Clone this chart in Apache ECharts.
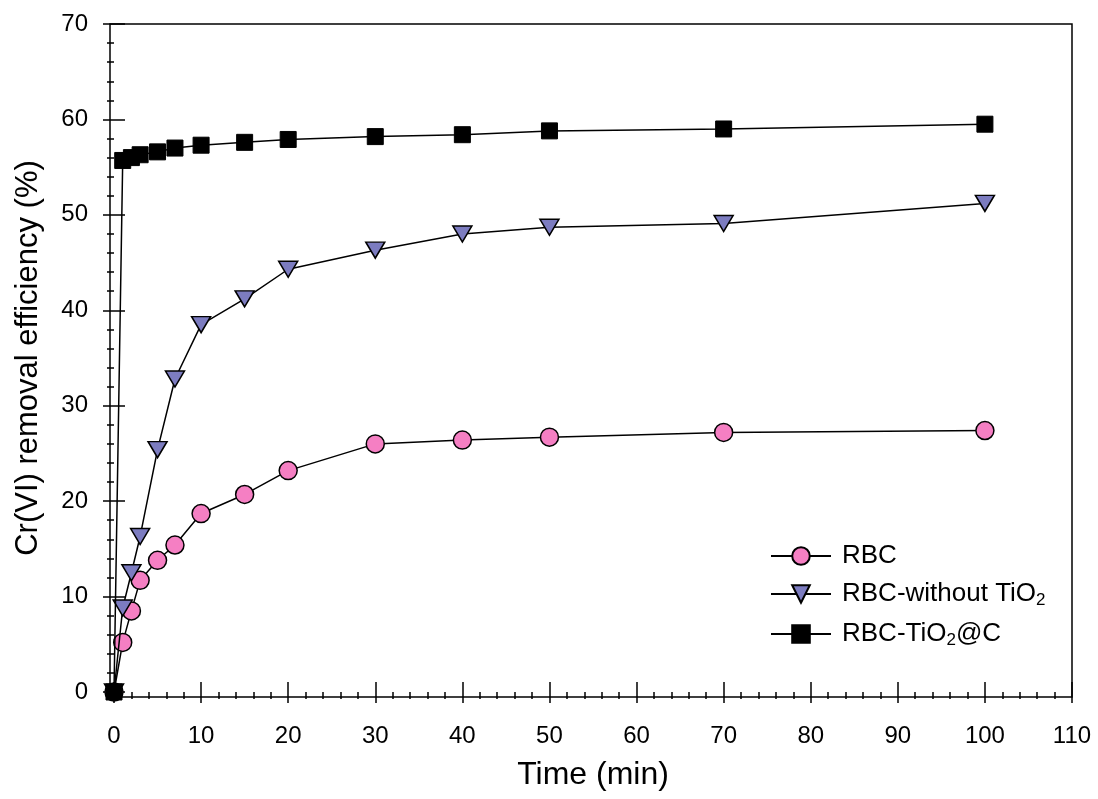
<!DOCTYPE html>
<html>
<head>
<meta charset="utf-8">
<script src="https://cdn.jsdelivr.net/npm/echarts@6/dist/echarts.min.js"></script>
<style>
  html, body { margin: 0; padding: 0; background: #fff; }
  #main { width: 1098px; height: 799px; }
</style>
</head>
<body>
<div id="main"></div>
<script>
// time points (min)
const time = [0, 1, 2, 3, 5, 7, 10, 15, 20, 30, 40, 50, 70, 100];
// Cr(VI) removal efficiency (%)
const rbc = [0, 5.2, 8.5, 11.7, 13.8, 15.4, 18.7, 20.7, 23.2, 26.0, 26.4, 26.7, 27.2, 27.4];
const rbcNoTiO2 = [0, 8.8, 12.5, 16.3, 25.4, 32.8, 38.5, 41.2, 44.3, 46.3, 48.0, 48.7, 49.1, 51.2];
const rbcTiO2C = [0, 55.7, 56.0, 56.3, 56.6, 57.0, 57.3, 57.6, 57.9, 58.2, 58.4, 58.8, 59.0, 59.5];

const seriesNames = ["RBC", "RBC-without TiO2", "RBC-TiO2@C"];
const xRange = [0, 110, 10];
const yRange = [0, 70, 10];

const font = "Liberation Sans";

let dom = document.getElementById("main");
let myChart = echarts.init(dom, null, { renderer: "canvas" });

function pairs(ys) {
    return time.map((t, i) => [t, ys[i]]);
}

function xAxisBase(extra) {
    return Object.assign({
        type: "value",
        min: xRange[0],
        max: xRange[1],
        interval: xRange[2],
        axisLine: { show: false },
        splitLine: { show: false },
        axisLabel: { show: false },
        axisTick: { show: true, lineStyle: { color: "#000", width: 1.5 } },
    }, extra);
}

function yAxisBase(extra) {
    return Object.assign({
        type: "value",
        min: yRange[0],
        max: yRange[1],
        interval: yRange[2],
        axisLine: { show: false },
        splitLine: { show: false },
        axisLabel: { show: false },
        axisTick: { show: true, lineStyle: { color: "#000", width: 1.5 } },
    }, extra);
}

let lineStyle = { color: "#000", width: 1.5 };

let option = {
    backgroundColor: "#fff",
    animation: false,
    grid: { left: 114, right: 26, top: 24, bottom: 107 },
    graphic: [{
        type: "rect",
        shape: { x: 110, y: 24, width: 962, height: 673 },
        style: { fill: "none", stroke: "#000", lineWidth: 1.5 },
        z: 0,
    }],
    legend: {
        orient: "vertical",
        left: 770,
        top: 543,
        padding: 0,
        itemWidth: 60,
        itemHeight: 22,
        itemGap: 12,
        data: seriesNames,
        formatter: (name) => name.replace("TiO2", "TiO{sub|2}"),
        textStyle: {
            fontFamily: font,
            fontSize: 26,
            color: "#000",
            padding: [0, 0, 0, 6],
            rich: {
                sub: { fontFamily: font, fontSize: 17, color: "#000", padding: [13, 0, 0, 0] },
            },
        },
    },
    xAxis: [
        xAxisBase({
            position: "bottom",
            offset: 5,
            axisTick: { show: true, length: 10, lineStyle: { color: "#000", width: 1.5 } },
            minorTick: { show: true, splitNumber: 5, length: 6, lineStyle: { color: "#000", width: 1.5 } },
            axisLabel: { show: true, fontFamily: font, fontSize: 24, color: "#000", margin: 27 },
            name: "Time (min)",
            nameLocation: "middle",
            nameGap: 62,
            nameTextStyle: { fontFamily: font, fontSize: 32, color: "#000" },
        }),
        xAxisBase({
            position: "bottom",
            offset: 5,
            axisTick: { show: true, inside: true, length: 10, lineStyle: { color: "#000", width: 1.5 } },
        }),
        xAxisBase({
            position: "top",
            axisTick: { show: true, inside: true, length: 11, lineStyle: { color: "#000", width: 1.5 } },
            minorTick: { show: true, splitNumber: 5, length: 7, lineStyle: { color: "#000", width: 1.5 } },
        }),
    ],
    yAxis: [
        yAxisBase({
            position: "left",
            offset: 4,
            axisTick: { show: true, length: 10, lineStyle: { color: "#000", width: 1.5 } },
            minorTick: { show: true, splitNumber: 5, length: 7, lineStyle: { color: "#000", width: 1.5 } },
            axisLabel: { show: true, fontFamily: font, fontSize: 24, color: "#000", margin: 22 },
            name: "Cr(VI) removal efficiency (%)",
            nameLocation: "middle",
            nameGap: 66,
            nameTextStyle: { fontFamily: font, fontSize: 31, color: "#000" },
        }),
        yAxisBase({
            position: "left",
            offset: 4,
            axisTick: { show: true, inside: true, length: 11, lineStyle: { color: "#000", width: 1.5 } },
        }),
        yAxisBase({
            position: "right",
            axisTick: { show: true, inside: true, length: 11, lineStyle: { color: "#000", width: 1.5 } },
            minorTick: { show: true, splitNumber: 5, length: 7, lineStyle: { color: "#000", width: 1.5 } },
        }),
    ],
    series: [{
        name: seriesNames[0],
        type: "line",
        clip: false,
        data: pairs(rbc),
        symbol: "circle",
        symbolSize: 18,
        lineStyle: lineStyle,
        itemStyle: { color: "#f57fc3", borderColor: "#000", borderWidth: 1.5 },
        z: 2,
    }, {
        name: seriesNames[1],
        type: "line",
        clip: false,
        data: pairs(rbcNoTiO2),
        symbol: "triangle",
        symbolRotate: 180,
        symbolSize: [19, 16],
        lineStyle: lineStyle,
        itemStyle: { color: "#7c7cc0", borderColor: "#000", borderWidth: 1.5 },
        z: 3,
    }, {
        name: seriesNames[2],
        type: "line",
        clip: false,
        data: pairs(rbcTiO2C),
        symbol: "rect",
        symbolSize: 16,
        lineStyle: lineStyle,
        itemStyle: { color: "#000", borderColor: "#000", borderWidth: 1 },
        z: 4,
    }],
};

if (option && typeof option === "object") {
    myChart.setOption(option);
}

window.addEventListener("resize", myChart.resize);
</script>
</body>
</html>
